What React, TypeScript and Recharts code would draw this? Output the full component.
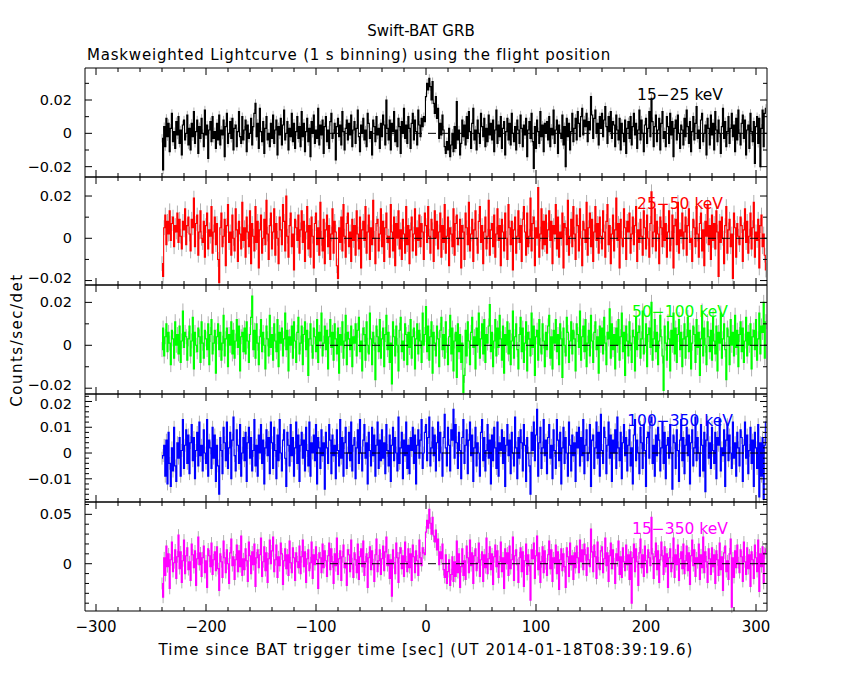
import { ErrorBar, Line, LineChart, ReferenceLine, XAxis, YAxis } from 'recharts';

// Swift-BAT mask-weighted light curve, 1 s bins starting at T-240 s.
// Rates are in units of 1e-3 counts/sec/det.
const binStart = -240;
const zeroLineFrom = -100;

const band15to25 = [
  -3, -22, 4, -8, 9, -2, 6, -11, 3, 12, -5, 1, -9, 7, -1, 10, -6, 2, -13, 5, 8, -4, 0, 11, -7,
  3, -10, 6, -2, 13, -6, 1, 8, -12, 4, -3, 9, 0, -8, 14, -1, 5, -15, 2, 7, -5, 10, -3, 1, -9,
  6, -4, 11, -7, 2, -1, 8, -14, 4, 12, -6, 0, 7, -3, 9, -10, 3, 5, -8, 1, 13, -2, -6, 10, -4,
  2, 8, -11, 5, -3, 0, 9, -7, 4, 12, 18, -2, 6, -9, 15, 1, -5, 7, -12, 3, 10, -4, 0, -8, 6,
  -3, 11, -6, 2, 8, -13, 4, -1, 9, -7, 5, 14, -4, 0, 7, -10, 3, -2, 12, -5, 6, -9, 1, 10, -3,
  4, -8, 13, -2, 6, -11, 1, 9, -5, 3, -14, 7, 0, 11, -6, 2, -3, 15, -7, 5, -1, 8, -12, 4, 10,
  -5, 2, -9, 7, 12, -3, 0, 6, -16, 4, 9, -2, 5, -7, 13, 1, -10, 3, 8, -4, 6, -1, 11, -8, 2,
  7, -6, 3, 14, -2, -11, 5, 0, 9, -4, 2, -8, 12, 6, -3, 1, -13, 8, 4, -5, 10, -1, 3, -9, 6,
  -2, 11, 5, -7, 20, 3, -4, 8, -10, 6, 1, 13, -5, 2, -8, 9, 4, -12, 7, 0, 15, -3, 5, -6, 10,
  3, -9, 6, 12, -4, 8, 1, -7, 14, 5, -2, 9, 4, 10, 7, 22, 30, 26, 33, 28, 20, 31, 18, 12, 22,
  9, 15, -3, 6, -1, 11, 2, -8, -12, -5, -10, 3, -14, -7, 0, -11, 4, -9, 19, -4, 2, -13, -6, 8, -2,
  5, -7, 10, -3, 13, 1, -9, 6, 15, -4, 2, -10, 8, 0, -6, 12, 4, -2, 9, -8, 3, -5, 11, -1, 6,
  -4, 8, -11, 2, 14, -6, 5, -2, 10, -9, 3, 7, -13, 1, 9, -4, 6, -7, 12, 0, -5, 4, -10, 8, 2,
  -6, 11, 3, -8, 5, -1, 9, -14, 2, 7, -3, 12, -5, -21, 4, -9, 8, 1, -6, 13, -2, 5, -11, 6, 0,
  7, -4, 10, -8, 3, -1, 14, -6, 2, 8, -12, 5, 0, -3, 11, -7, 4, -20, 9, -2, 6, -10, 1, 12, -5,
  3, 9, -4, 13, 6, -2, 10, 15, -1, 8, 4, 12, -5, 7, 2, 22, 11, -3, 9, 14, 0, 6, -7, 10, 3,
  12, -2, 8, 16, 4, -6, 10, 1, 13, -3, 7, 5, -8, 11, 2, -4, 9, -10, 6, 0, -5, 8, -12, 3, 7,
  -3, 10, -7, 4, 12, -1, 6, -9, 2, 14, -4, 8, 0, -11, 5, 9, -6, 3, 13, -2, 21, 7, -8, 4, 11,
  -5, 2, 9, -10, 6, 13, -3, 1, -8, 10, 4, -6, 12, -1, 7, -14, 3, 8, -4, 11, 0, -9, 5, 2, -7,
  9, -2, 14, 4, -6, 7, -11, 1, 10, -4, 6, 16, -3, 2, -9, 8, 12, -5, 0, 5, -13, 9, 3, -7, 11,
  -1, 6, -10, 13, 2, -5, 8, 0, -12, 4, 15, -3, 7, -8, 1, 10, -6, 3, 12, -2, 5, -11, 9, -4, 14,
  0, -7, 6, 11, -3, 8, -13, 2, 5, -9, 12, 1, -5, 7, -18, 4, 10, -6, 9, -20, 3, 14, -8, 12, 15,
];

const band25to50 = [
  -12, -18, 5, 11, -3, 8, 2, 13, -1, 7, 10, -4, 6, 3, 12, -2, 9, 1, -5, 8, 4, 14, -3, 6, 10,
  2, -6, 9, 5, 19, -4, 7, 11, -8, 3, 13, 0, -2, 8, -9, 6, 12, -5, 4, 1, 15, -7, 3, 10, -3,
  7, -10, -21, 5, 12, -4, 1, 9, -13, 6, 16, -2, 3, -8, 11, 0, -6, 14, 4, -11, 8, 2, -5, 17, -1,
  5, -9, 10, 3, -4, 13, -12, 7, 1, -6, 15, -2, 8, -14, 4, 11, -7, 0, 9, -3, 18, 2, -10, 6, 12,
  -5, 3, 14, -8, 7, 0, -12, 10, 4, -3, 16, 8, -6, 20, 1, -9, 6, 12, -4, 2, -15, 9, 5, -1, 11,
  -7, 4, 13, -2, 8, -11, 3, 15, -5, 6, -9, 10, 1, -14, 7, 12, -3, 5, -8, 17, 0, -6, 9, -12, 4,
  11, -4, 6, -10, 2, 14, -7, 8, 3, -13, -19, 5, -2, 10, -6, 16, 1, -9, 7, 12, -4, 3, -11, 9, -1,
  6, -8, 13, 2, -5, 10, -14, 4, 8, -1, 15, -7, 3, 11, -10, 5, -3, 18, 0, -12, 7, 9, -6, 2, 14,
  -4, 8, -11, 5, 12, -2, 1, -9, 16, 3, -6, 10, -13, 7, 0, 13, -5, 4, -10, 9, 2, -7, 15, -3, 6,
  -12, 4, 10, -6, 2, 14, -8, 5, -1, 11, -4, 7, 3, -10, 12, 6, -2, 15, 1, -7, 9, 4, -11, 13, 0,
  8, -5, 3, 12, -9, 6, -2, 16, -7, 1, 10, -13, 5, 2, -4, 14, -8, 7, 11, -3, 0, 9, -14, 6, 3,
  -10, 12, 5, -3, 17, -6, 2, 9, -11, 4, 13, 0, -7, 8, 15, -2, 6, -12, 3, 10, -5, 1, 18, -8, 4,
  7, -4, 11, -9, 2, 14, -1, 6, -13, 9, 3, -6, 12, 0, -10, 16, 5, -3, 8, -15, 4, 10, -7, 1, 13,
  -2, 6, -11, 9, 15, 3, -8, 12, -4, 1, 19, -6, 7, 10, -13, 5, 0, 24, -9, 2, 14, -5, 8, -3, 11,
  -7, 4, 13, -1, 8, -12, 6, 2, 16, -5, 10, -9, 3, 0, 12, -14, 7, 5, -3, 18, -8, 1, 9, -4, 15,
  2, -10, 11, 6, -6, 14, 0, -13, 8, 4, -2, 17, -8, 5, 12, -4, 9, -11, 3, 15, -1, 7, -7, 10, 1,
  -5, 13, 3, -9, 8, 16, -3, 6, -12, 2, 11, -6, 4, 19, -1, 7, -14, 9, 0, -4, 14, 5, -10, 8, 3,
  12, -7, 2, 10, -3, 6, 15, -11, 4, -2, 9, 1, -8, 13, 5, -5, 11, 0, -9, 7, 22, -4, 3, 14, -6,
  8, 2, -12, 10, 5, -4, 16, -1, 7, -9, 3, 13, -6, 0, 11, -14, 6, 9, -3, 17, -7, 4, 1, 12, -5,
  3, 10, -8, 6, 14, -2, 0, -11, 9, 5, -4, 15, 2, -9, 7, 12, -6, 4, -13, 8, 1, 16, -3, 6, -10,
  11, -1, 7, -5, 13, 3, -18, 8, -2, 10, 0, -12, 6, 15, -7, 4, 9, -4, 2, -19, 12, 5, -9, 7, 1,
  -3, 10, 6, -11, 4, 14, -2, 8, -7, 1, 12, -5, 5, 17, -9, 3, -1, 9, -14, 6, 11, -4, 2, -8, -15,
];

const band50to100 = [
  -2, 8, -5, 4, 10, -3, 6, 1, -9, 7, 3, -6, 11, 0, 5, -4, 9, -8, 2, 16, -1, 6, 4, -7, 3,
  9, -5, 2, 13, -11, 6, 0, -3, 8, 4, -8, 11, 1, -6, 7, 3, -2, 10, -9, 5, 12, -4, 1, 7, -13,
  4, 10, -2, 6, -7, 1, 14, -5, 3, 8, -10, 5, 0, 11, -4, 7, -6, 2, 12, -1, 9, -12, 4, 6, -3,
  8, -4, 11, 2, -8, 5, 13, 23, -2, 7, -6, 10, 1, -9, 4, 12, -3, 6, 0, -11, 9, 3, -5, 14, -1,
  5, -7, 10, 2, -3, 12, -10, 6, 1, 8, -5, 3, 15, -2, 7, -12, 4, 0, 9, -6, 11, 2, -8, 6, 13,
  -4, 1, 9, -9, 5, 11, -2, 7, -14, 3, 10, 0, -6, 8, 4, -3, 12, -8, 6, 2, 15, -5, 1, 9, -2,
  7, -11, 4, 12, -1, 6, -7, 10, 3, -4, 8, -13, 5, 0, 11, -6, 2, 14, -9, 6, 3, -2, 9, -10, 4,
  1, 10, -5, 7, 13, -3, 2, -12, 8, 5, -7, 11, 0, -4, 15, 3, -9, 6, 1, -16, 9, 4, -3, 12, -6,
  3, 8, -10, 5, 14, -2, 6, -8, 1, -18, 11, 4, -5, 9, 0, -12, 7, 13, -3, 2, -7, 10, 5, -9, 6,
  -1, 12, -6, 4, 8, -11, 3, 10, -4, 7, 2, -8, 15, 0, 5, 18, -3, 9, -7, 4, 11, -13, 6, 1, -5,
  9, 3, -10, 7, 13, -2, 5, -6, 11, 0, -9, 4, 14, -4, 8, -12, 2, 6, -15, 10, -3, 5, -8, 1, -22,
  -14, 7, -5, 11, 2, -9, 6, 13, -1, 4, -11, 8, 0, 15, -6, 3, 10, -4, 12, -8, 5, 1, 9, 19, -3,
  6, -10, 2, 12, -5, 8, -1, 14, 3, -7, 9, -13, 5, 0, 11, -4, 7, -9, 2, 16, -6, 4, 10, -2, -11,
  5, 13, -3, 8, -8, 1, 11, -12, 6, 3, -5, 15, -1, 9, -14, 4, 7, -7, 12, 0, -4, 10, 2, -10, 6,
  -2, 9, 14, -6, 4, -11, 7, 1, 12, -3, 5, -9, 10, 3, -15, 8, 0, -5, 13, 6, -8, 2, 11, -4, 7,
  3, -12, 10, 5, -1, 16, -7, 4, 9, -3, 12, -10, 1, 7, -5, 14, 2, -8, 6, 11, -2, 4, -13, 9, 0,
  8, -4, 13, 1, -9, 6, 3, 17, -6, 10, -2, 5, -11, 8, 0, 12, -7, 4, 15, -3, 6, -14, 9, 2, -5,
  11, 1, -8, 7, 4, -12, 13, -2, 6, 9, -6, 3, 16, -4, 0, 10, -10, 5, 8, -1, 20, -7, 3, 12, -3,
  6, -9, 2, 14, 4, -5, -21, 9, 1, -7, 11, 3, -12, 7, 0, 15, -4, 8, -8, 5, 12, -2, 6, -10, 3,
  10, -6, 4, 13, -3, 7, -11, 1, 9, 5, -8, 12, -1, 6, -14, 3, 16, -5, 8, 0, -9, 11, 4, -3, 7,
  -7, 13, 2, -4, 9, -12, 6, 1, 15, -6, 3, 10, -2, -16, 8, 4, -9, 12, 0, 6, -5, 14, -1, 7, -10,
  5, 11, -3, 8, -8, 2, 13, -5, 6, 0, 10, -11, 4, 7, -2, 12, -7, 3, 15, -4, 9, 6, 20, -6, 11,
];

const band100to350 = [
  -2, -1, 3, -9, 5, -12, 8, -4, -13, 2, -7, 10, -5, -11, 4, -2, 6, -9, 1, 13, -6, 3, 9, -4, 7,
  -8, 4, 11, -3, 6, -10, 1, 8, -5, 12, -1, 3, -7, 9, 0, -4, 13, -9, 5, 2, -6, 10, -2, 7, -11,
  3, -5, -16, 6, 1, -8, 10, 4, -3, 12, -6, 2, 8, -10, 5, 14, -1, -7, 9, 3, -4, 11, -9, 0, 6,
  -3, 8, -11, 4, 10, -2, 6, -7, 1, 13, -5, 3, -9, 7, 0, 11, -4, 5, -12, 2, 9, -1, 6, -8, 12,
  4, -6, 10, 1, -10, 7, -3, 13, 0, -7, 5, 9, -2, -13, 8, 3, -5, 11, -1, 6, -9, 2, 12, -4, 7,
  -11, 3, 8, -2, 5, -7, 10, 1, -5, 12, -9, 4, 0, 7, -3, 11, -12, 6, 2, -6, 9, -1, 4, -14, 8,
  2, -4, 11, 5, -8, 7, -1, 3, -10, 9, 1, -5, 13, -2, 6, -9, 4, 10, -6, 0, 8, -3, 12, -7, 3,
  6, -10, 2, 9, -4, 13, 0, -7, 5, 11, -2, 4, -12, 8, 1, -5, 10, -1, 7, -9, 3, 12, -6, 5, -3,
  9, -2, 4, -8, 11, 1, -5, 7, -11, 3, 10, -3, 6, 0, -7, 14, -4, 2, 8, -10, 5, -1, 12, -6, 3,
  -8, 6, 1, 10, -4, 7, -12, 3, 9, -2, 5, 13, -6, 0, 8, 11, -3, 6, 14, -5, 2, 10, -1, 7, -7,
  4, 12, -3, 8, 0, -9, 6, 15, 2, -5, 10, 3, -7, 9, 5, 17, -2, 11, 4, -6, 8, 1, -10, 6, 13,
  -4, 3, 9, -8, 5, 12, -1, 7, -11, 2, 10, -5, 4, 0, -9, 8, 13, -3, 6, -7, 1, 11, -2, 5, -12,
  7, -3, 10, 2, -6, 12, -9, 4, 1, 9, -4, 6, -13, 3, 11, -1, 5, -8, 8, 0, -5, 14, 2, -10, 6,
  -2, 9, 4, -7, 11, 3, -11, 6, 0, -5, -16, 8, 1, 12, -3, 7, 17, -9, 4, 10, -6, 2, 13, -1, 5,
  -8, 6, 11, -2, 3, -10, 9, 1, -6, 13, 5, -3, 8, -12, 2, 10, -4, 6, 0, -9, 12, 3, -7, 7, -1,
  4, -11, 8, 2, 10, -5, 6, -1, 13, -8, 3, 9, -3, 0, 11, -13, 5, 7, -6, 2, 12, -2, 8, -9, 15,
  1, -4, 10, 6, -8, 3, 12, -2, 7, -11, 5, 0, 9, -6, 14, 2, -3, 8, -10, 4, 11, -1, 6, -7, 3,
  9, -5, 2, -12, 7, 13, -3, 5, 0, -8, 10, 4, -6, 11, 1, -13, 6, 8, -2, 12, 14, -4, 3, -9, 7,
  -1, 10, 5, -7, 2, 12, -4, 8, -10, 3, 6, -2, 11, 0, -14, 7, 4, -6, 9, 1, -11, 5, 13, -3, 6,
  -8, 3, 10, -1, 7, -12, 4, 9, -5, 2, 14, -3, 6, 0, -9, 11, 3, -7, 8, -15, 5, 12, -2, 4, -6,
  10, 1, -4, 8, -10, 6, 3, 13, -7, 2, -1, 9, -13, 5, 11, -3, 7, 0, -6, 12, -2, 4, -9, 8, 2,
  -5, 9, 6, -11, 3, 12, -2, 7, -8, 1, 10, -4, 5, -13, 8, 2, -6, 11, -17, 4, -9, 6, -18, 3, 12,
];

const band15to350 = [
  -20, -34, 6, -12, 18, -3, 10, -25, 4, 22, -8, 1, 14, -15, 7, 29, -5, 12, -19, 3, 24, -10, 8, 16, -6,
  2, -17, 20, 9, -4, 13, -22, 5, 27, -1, 11, -13, 6, 18, -9, 3, -24, 15, 8, -3, 21, -11, 4, 12, -7,
  17, -5, -27, 10, 2, -14, 23, 6, -9, 14, 0, -20, 11, 25, -2, 7, -16, 4, 19, -8, 13, -3, 28, -12, 5,
  -6, 15, 3, -18, 22, 8, -10, 12, -1, 20, -23, 6, 14, -4, 9, 26, -13, 2, 17, -7, 11, -19, 5, 24, 0,
  13, 27, -8, 4, 19, -14, 7, -2, 21, 10, -21, 3, 15, -5, 9, -12, 23, 1, -9, 16, 6, -17, 11, 2, -4,
  18, -10, 7, 24, -3, 12, -19, 5, 14, -7, 1, 22, -15, 9, -1, 17, 4, -25, 11, 6, -9, 20, -4, 13, 3,
  -13, 8, 21, -6, 15, 2, -20, 10, -2, 26, -11, 5, 13, -17, 7, 19, -4, 1, -22, 14, 9, -8, 24, 0, -14,
  11, 4, -9, 20, -16, 7, 15, -3, 23, -12, 2, 10, -24, 6, 17, -6, 13, -1, -18, 9, 25, -8, 3, 14, -11,
  5, 18, -7, 12, 27, -2, 9, -15, 4, -33, 14, 1, -10, 21, 6, -19, 11, 16, -5, 8, -13, 22, 2, -8, 15,
  -4, 10, -17, 19, 7, -9, 13, 3, -12, 24, 6, -2, 16, 11, 9, 32, 44, 36, 55, 41, 30, 47, 28, 22, 34,
  14, 25, -1, 12, 5, 20, -6, -14, 9, -20, -8, 4, -22, -11, 7, -18, 2, -13, 23, -9, 10, -24, -3, 15, -12,
  3, -16, 18, 6, -9, 24, -2, 11, -20, 8, 15, -7, 1, 21, -13, 4, 12, -18, 9, -4, 26, -10, 5, 17, -6,
  10, -21, 7, 19, -3, 13, -14, 2, 22, -8, 6, -25, 15, 0, 11, -12, 18, -5, 4, 27, -17, 8, 14, -1, -19,
  6, 16, -8, 12, -23, 3, 20, -11, 9, -2, -37, 14, 5, 21, -15, 8, 28, -6, 11, -19, 2, 17, -9, 13, 0,
  -12, 9, 23, -5, 14, -18, 6, 1, 19, -10, 12, -26, 4, 15, -7, 10, -3, -24, 16, 7, -13, 21, -1, 8, -16,
  11, -4, 18, 6, -9, 24, 2, 14, -6, 20, 9, -12, 16, 4, -3, 35, 12, -8, 19, 7, -15, 22, 1, -6, 13,
  17, -9, 5, 26, -2, 11, -18, 8, 21, -5, 14, 0, -20, 10, 3, 23, -11, 7, -14, 16, 2, -7, 19, -1, 9,
  -16, 12, -40, 6, 20, -8, 15, 2, -22, 11, 25, -4, 9, -13, 18, 3, -9, 14, 6, -2, 47, 10, -15, 7, 21,
  -6, 13, -19, 4, 22, 8, -11, 17, -3, 10, -24, 6, 15, -8, 1, 26, -14, 9, -1, 19, -17, 5, 12, -5, 20,
  -10, 3, 18, -7, 11, -21, 8, 24, -2, 14, -13, 6, 1, 20, -16, 9, -4, 27, -9, 12, 2, -19, 15, 5, -11,
  16, -3, 9, -20, 13, 4, -12, 21, -6, 7, -27, 11, 18, -8, 3, -16, 10, 25, -44, 6, -14, 13, -4, 19, 1,
  -9, 14, 7, -18, 22, 2, -11, 16, -5, 9, -23, 12, 4, -15, 19, 6, -8, 24, -28, 10, -3, 17, -20, 11, 15,
];

const bands = [band15to25, band25to50, band50to100, band100to350, band15to350];
const bandNames = ['15\u221225 keV', '25\u221250 keV', '50\u2212100 keV', '100\u2212350 keV', '15\u2212350 keV'];
const bandColors = ['#000000', '#ff0000', '#00ff00', '#0000ff', '#ff00ff'];
const bandErrors = [2.5, 3.5, 3.5, 2.5, 6]; // typical 1-sigma per bin, 1e-3 units

const xDomain = [-310, 310];
const xTicks = [
  -300, -280, -260, -240, -220, -200, -180, -160, -140, -120, -100, -80, -60, -40, -20, 0,
  20, 40, 60, 80, 100, 120, 140, 160, 180, 200, 220, 240, 260, 280, 300,
];
const xMajor = [-300, -200, -100, 0, 100, 200, 300];

const yDomains = [
  [-0.0262, 0.0392],
  [-0.0221, 0.029],
  [-0.0227, 0.0281],
  [-0.019, 0.0229],
  [-0.0479, 0.0625],
];
const yTicks = [
  [-0.02, -0.01, 0, 0.01, 0.02, 0.03],
  [-0.02, -0.01, 0, 0.01, 0.02],
  [-0.02, -0.01, 0, 0.01, 0.02],
  [-0.018, -0.016, -0.014, -0.012, -0.01, -0.008, -0.006, -0.004, -0.002, 0, 0.002, 0.004, 0.006,
    0.008, 0.01, 0.012, 0.014, 0.016, 0.018, 0.02, 0.022],
  [-0.04, -0.03, -0.02, -0.01, 0, 0.01, 0.02, 0.03, 0.04, 0.05, 0.06],
];
const yMajor = [
  [-0.02, 0, 0.02],
  [-0.02, 0, 0.02],
  [-0.02, 0, 0.02],
  [-0.01, 0, 0.01, 0.02],
  [0, 0.05],
];

// page layout
const W = 850;
const plotLeft = 85;
const plotRight = 767;
const panelEdges = [68, 177, 285, 394, 502, 611];
const font = 'DejaVu Sans';

const rows = band15to25.map((_, i) => {
  const row: { [k: string]: number | null } = { t: binStart + i };
  bands.forEach((b, j) => {
    row[`b${j}`] = b[i] === undefined ? null : b[i] / 1000;
    row[`e${j}`] = bandErrors[j] / 1000;
  });
  return row;
});

const isMajor = (list: number[], v: number) => list.some(m => Math.abs(m - v) < 1e-9);

const fmt = (v: number, digits: number) => {
  if (Math.abs(v) < 1e-12) return '0';
  const s = Math.abs(v).toFixed(digits);
  return v < 0 ? '\u2212' + s : s;
};

const Panel = ({ i }: { i: number }) => {
  const top = panelEdges[i];
  const plotH = panelEdges[i + 1] - top;
  const plotW = plotRight - plotLeft;
  const last = i === bands.length - 1;
  const padTop = 12;
  const padBottom = last ? 30 : 12;

  const xTick = (p: any) => {
    const { x, y, payload } = p;
    const major = isMajor(xMajor, payload.value);
    const len = major ? 7 : 4;
    return (
      <g>
        <line x1={x} x2={x} y1={y} y2={y - len} stroke="#000" />
        <line x1={x} x2={x} y1={y - plotH} y2={y - plotH + len} stroke="#000" />
        {last && major && (
          <text x={x} y={y + 16} textAnchor="middle" dominantBaseline="central"
            fontFamily={font} fontSize={15} fill="#000">
            {fmt(payload.value, 0)}
          </text>
        )}
      </g>
    );
  };

  const yTick = (p: any) => {
    const { x, y, payload } = p;
    const major = isMajor(yMajor[i], payload.value);
    const len = major ? 7 : 4;
    // y is in the chart's own pixels: labels hugging a panel edge are nudged inward
    const fromTop = y - padTop;
    const fromBottom = padTop + plotH - y;
    const nudge = fromTop < 9 ? 3 : fromBottom < 9 ? -3 : 0;
    return (
      <g>
        <line x1={x} x2={x + len} y1={y} y2={y} stroke="#000" />
        <line x1={x + plotW} x2={x + plotW - len} y1={y} y2={y} stroke="#000" />
        {major && (
          <text x={x - 13} y={y + nudge} textAnchor="end" dominantBaseline="central"
            fontFamily={font} fontSize={14.5} fill="#000">
            {fmt(payload.value, 2)}
          </text>
        )}
      </g>
    );
  };

  // axes get a 1px box (a zero-sized axis is not drawn), so the margins give way by 1px
  return (
    <div style={{ position: 'absolute', left: 0, top: top - padTop }}>
      <LineChart
        width={W}
        height={plotH + padTop + padBottom}
        data={rows}
        margin={{ top: padTop, bottom: padBottom - 1, left: plotLeft - 1, right: W - plotRight }}
      >
        <XAxis dataKey="t" type="number" domain={xDomain} allowDataOverflow ticks={xTicks}
          interval={0} tickSize={0} tickMargin={0} height={1} stroke="#000" tick={xTick} />
        <YAxis type="number" domain={yDomains[i]} allowDataOverflow ticks={yTicks[i]}
          interval={0} tickSize={0} tickMargin={0} width={1} stroke="#000" tick={yTick} />
        <Line dataKey={`b${i}`} type="step" stroke="none" dot={false} activeDot={false}
          isAnimationActive={false} legendType="none">
          <ErrorBar dataKey={`e${i}`} width={0} stroke="#b0b0b0" strokeWidth={1} isAnimationActive={false} />
        </Line>
        <Line dataKey={`b${i}`} type="step" stroke={bandColors[i]} strokeWidth={1.1} dot={false}
          activeDot={false} isAnimationActive={false} />
        <ReferenceLine segment={[{ x: zeroLineFrom, y: 0 }, { x: xDomain[1], y: 0 }]}
          stroke="#000" strokeDasharray="8 6" />
        <ReferenceLine y={yDomains[i][1]} stroke="#000" />
        <ReferenceLine x={xDomain[1]} stroke="#000" />
      </LineChart>
    </div>
  );
};

export default function App() {
  return (
    <div style={{ position: 'absolute', left: 0, top: 0, width: W, height: 680, background: '#fff' }}>
      {bands.map((_, i) => (
        <Panel key={i} i={i} />
      ))}
      <svg width={W} height={680} style={{ position: 'absolute', left: 0, top: 0, pointerEvents: 'none' }}
        fontFamily={font} fontSize={15}>
        <text x={421} y={31} textAnchor="middle" dominantBaseline="central">Swift-BAT GRB</text>
        <text x={87} y={55} dominantBaseline="central" letterSpacing={0.8}>
          Maskweighted Lightcurve (1 s binning) using the flight position
        </text>
        <text x={426} y={650} textAnchor="middle" dominantBaseline="central" letterSpacing={1.1}>
          Time since BAT trigger time [sec] (UT 2014-01-18T08:39:19.6)
        </text>
        <text transform="translate(17,340) rotate(-90)" textAnchor="middle" dominantBaseline="central"
          letterSpacing={1.5}>
          Counts/sec/det
        </text>
        {bandNames.map((name, i) => (
          <text key={name} x={680} y={panelEdges[i] + 27} textAnchor="middle" dominantBaseline="central"
            fill={bandColors[i]} fontSize={15.5}>
            {name}
          </text>
        ))}
      </svg>
    </div>
  );
}
